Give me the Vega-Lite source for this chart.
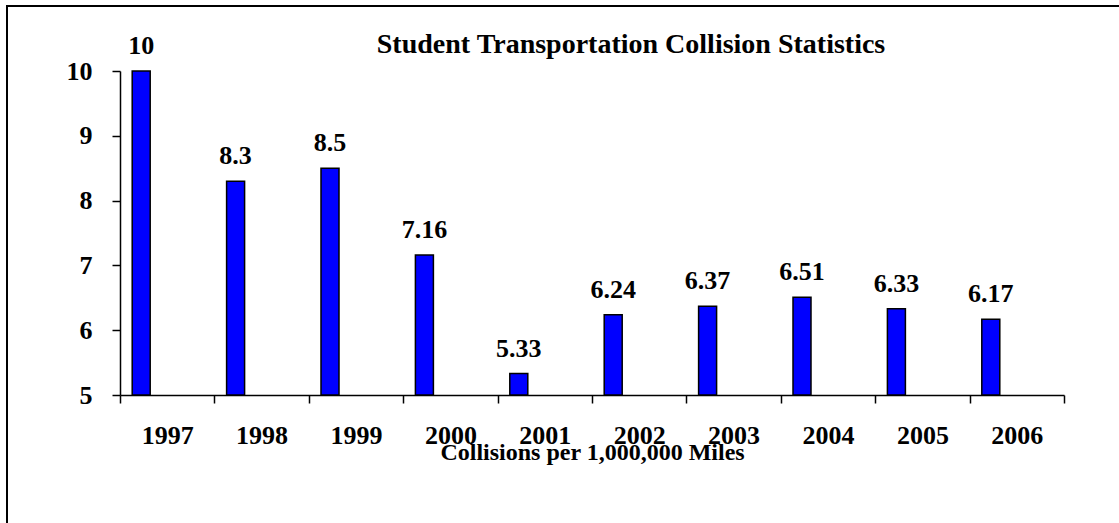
{
  "$schema": "https://vega.github.io/schema/vega-lite/v6.json",
  "width": 1122,
  "height": 530,
  "autosize": {"type": "none"},
  "padding": {"left": 7, "top": 6, "right": -10, "bottom": -13},
  "background": "white",
  "config": {
    "view": {"stroke": "black", "strokeWidth": 2},
    "font": "Liberation Serif"
  },
  "title": {
    "text": "Student Transportation Collision Statistics",
    "font": "Liberation Serif",
    "fontSize": 28,
    "fontWeight": "bold",
    "color": "black",
    "anchor": "middle",
    "frame": "group",
    "baseline": "alphabetic",
    "offset": -48,
    "dx": 63,
    "dy": 27
  },
  "data": {
    "values": [
      {"year": "1997", "value": 10},
      {"year": "1998", "value": 8.3},
      {"year": "1999", "value": 8.5},
      {"year": "2000", "value": 7.16},
      {"year": "2001", "value": 5.33},
      {"year": "2002", "value": 6.24},
      {"year": "2003", "value": 6.37},
      {"year": "2004", "value": 6.51},
      {"year": "2005", "value": 6.33},
      {"year": "2006", "value": 6.17}
    ]
  },
  "encoding": {
    "x": {
      "field": "year",
      "type": "ordinal",
      "scale": {"range": [113, 1057], "paddingInner": 0, "paddingOuter": 0},
      "axis": {
        "title": "Collisions per 1,000,000 Miles",
        "offset": -141,
        "tickBand": "extent",
        "tickSize": 8,
        "tickColor": "black",
        "tickWidth": 1.5,
        "domainColor": "black",
        "domainWidth": 1.5,
        "labelAngle": 0,
        "labelFont": "Liberation Serif",
        "labelFontSize": 26,
        "labelFontWeight": "bold",
        "labelColor": "black",
        "labelPadding": 19,
        "titleFont": "Liberation Serif",
        "titleFontSize": 24,
        "titleFontWeight": "bold",
        "titleColor": "black",
        "titleY": 64,
        "titleBaseline": "alphabetic",
        "grid": false
      }
    },
    "y": {
      "field": "value",
      "type": "quantitative",
      "scale": {"domain": [5, 10], "range": [389, 65], "zero": false, "nice": false},
      "axis": {
        "title": null,
        "offset": -113,
        "values": [5, 6, 7, 8, 9, 10],
        "tickSize": 8,
        "tickColor": "black",
        "tickWidth": 1.5,
        "domainColor": "black",
        "domainWidth": 1.5,
        "grid": false,
        "labelFont": "Liberation Serif",
        "labelFontSize": 26,
        "labelFontWeight": "bold",
        "labelColor": "black",
        "labelPadding": 20
      }
    }
  },
  "layer": [
    {
      "mark": {"type": "bar", "width": 18, "xOffset": -26, "fill": "#0000FF", "stroke": "black", "strokeWidth": 1.5},
      "encoding": {"y2": {"datum": 5}}
    },
    {
      "mark": {"type": "text", "xOffset": -26, "baseline": "alphabetic", "dy": -17, "font": "Liberation Serif", "fontSize": 26, "fontWeight": "bold", "color": "black"},
      "encoding": {"text": {"field": "value", "type": "quantitative", "format": ".2~f"}}
    }
  ]
}
